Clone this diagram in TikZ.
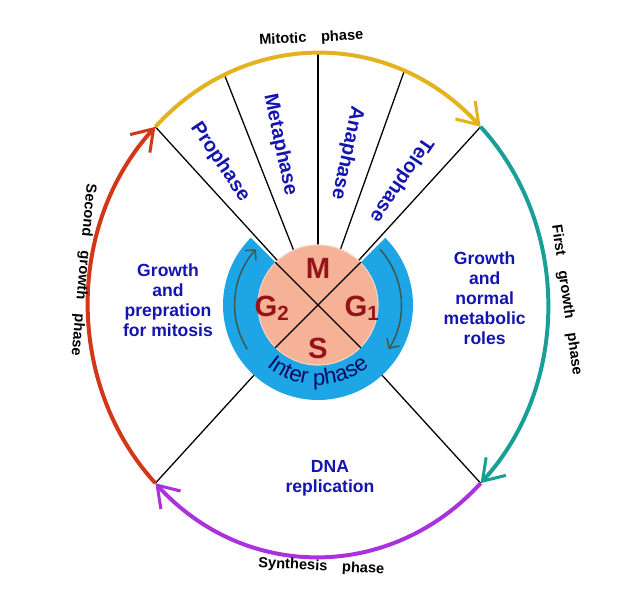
\documentclass[tikz,border=0pt]{standalone}
\usepackage{fontspec}
\setmainfont{Liberation Sans}
\usetikzlibrary{arrows.meta,decorations.text}
\definecolor{phaseblue}{RGB}{20,20,175}
\definecolor{letterred}{RGB}{150,20,25}
\definecolor{ringblue}{RGB}{30,165,230}
\definecolor{peach}{RGB}{245,178,150}
\definecolor{mitoticyellow}{RGB}{228,178,30}
\definecolor{firstteal}{RGB}{25,160,150}
\definecolor{synthpurple}{RGB}{170,50,220}
\definecolor{secondred}{RGB}{210,55,25}
\definecolor{interarrow}{RGB}{60,90,80}
\tikzset{
  cyclearc/.style = {line width=3.4pt, -{Straight Barb[length=6mm,width=8mm,line width=2.6pt]}},
  spoke/.style = {line width=1.1pt, black},
  stagelabel/.style = {text=phaseblue, font=\fontsize{17}{17}\selectfont\bfseries},
  regionlabel/.style = {text=phaseblue, align=center, font=\fontsize{15}{17}\selectfont\bfseries},
  outerlabel/.style = {text=black, font=\fontsize{12.5}{12.5}\selectfont\bfseries},
  letter/.style = {text=letterred, font=\fontsize{25}{25}\selectfont\bfseries}
}
\begin{document}
\begin{tikzpicture}
\useasboundingbox (-9.54,-9.27) rectangle (9.63,9.15);
% points on the outer ellipse
\foreach \a in {45,135,-45,-135}
  \coordinate (p\a) at (\a:6.9cm and 7.56cm);
% spokes
\foreach \a in {114,90,68}
  \draw[spoke] (\a:1.8) -- (\a:6.9cm and 7.56cm);
\draw[spoke] (p135) -- (p-45);
\draw[spoke] (p45) -- (p-135);
% cycle arcs
\draw[cyclearc, mitoticyellow] (p135) arc[start angle=135, end angle=45, x radius=6.9cm, y radius=7.56cm];
\draw[cyclearc, firstteal] (p45) arc[start angle=45, end angle=-45, x radius=6.9cm, y radius=7.56cm];
\draw[cyclearc, synthpurple] (p-45) arc[start angle=-45, end angle=-135, x radius=6.9cm, y radius=7.56cm];
\draw[cyclearc, secondred] (p-135) arc[start angle=-135, end angle=-225, x radius=6.9cm, y radius=7.56cm];
% interphase ring
\fill[ringblue] (135:2.85) arc[start angle=135, end angle=405, radius=2.85] -- (45:1.8) arc[start angle=45, end angle=-225, radius=1.8] -- cycle;
\draw[interarrow, line width=1.3pt, -{Straight Barb[length=2.2mm]}] (212:2.5) arc[start angle=212, end angle=138, radius=2.5];
\draw[interarrow, line width=1.3pt, -{Straight Barb[length=2.2mm]}] (42:2.5) arc[start angle=42, end angle=-32, radius=2.5];
\path[decorate, decoration={text along path, text align=center, text color=phaseblue!55!black,
  text={|\fontsize{19}{19}\selectfont|Inter phase}}] (216:2.4) arc[start angle=216, end angle=324, radius=2.4];
% cell
\node[circle, minimum size=3.6cm, fill=peach, draw=peach!60!white, line width=1pt] (cell) at (0,0) {};
\draw[spoke] (cell.135) -- (cell.-45);
\draw[spoke] (cell.45) -- (cell.-135);
\node[letter] (m) at (0,1.1) {M};
\node[letter] (s) at (0,-1.3) {S};
\node[letter] (g2) at (-1.38,-0.1) {G\textsubscript{2}};
\node[letter] (g1) at (1.32,-0.1) {G\textsubscript{1}};
% stage labels
\node[stagelabel, rotate=-56] (pro) at (-2.94,4.29) {Prophase};
\node[stagelabel, rotate=-78] (meta) at (-1.14,4.8) {Metaphase};
\node[stagelabel, rotate=-102] (ana) at (0.87,4.56) {Anaphase};
\node[stagelabel, rotate=-124] (telo) at (2.49,3.75) {Telophase};
\node[regionlabel] (g2text) at (-4.5,0.15) {Growth\\and\\prepration\\for mitosis};
\node[regionlabel] (g1text) at (5.0,0.2) {Growth\\and\\normal\\metabolic\\roles};
\node[regionlabel] (stext) at (0.36,-5.2) {DNA\\replication};
% phase names
\node[outerlabel, rotate=3] (mit) at (-0.2,8.0) {Mitotic\quad phase};
\node[outerlabel, rotate=-82] (first) at (7.45,0.15) {First\quad growth\quad phase};
\node[outerlabel, rotate=-95] (second) at (-7.05,1.05) {Second\quad growth\quad phase};
\node[outerlabel, rotate=-3] (synth) at (0.1,-7.85) {Synthesis\quad phase};
\end{tikzpicture}
\end{document}
